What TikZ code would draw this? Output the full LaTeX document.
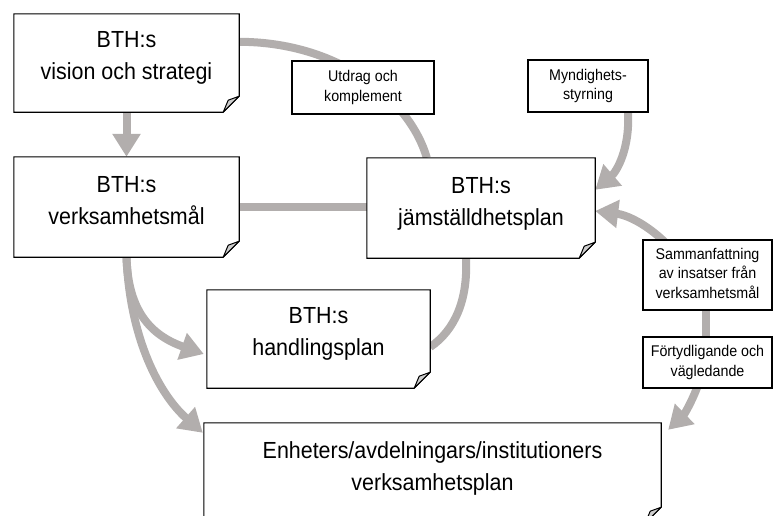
\documentclass[tikz,border=0pt]{standalone}
\usepackage{fontspec}
\setmainfont{Liberation Sans}
\newfontfamily\condfont[FakeStretch=0.92]{Liberation Sans}
\usetikzlibrary{arrows.meta,calc}
\definecolor{conngray}{RGB}{178,174,173}
\definecolor{foldgray}{RGB}{205,205,205}
\pgfdeclarelayer{bg}
\pgfdeclarelayer{mid}
\pgfsetlayers{bg,mid,main}
\newcommand\boxtext[2]{\raisebox{#1}[\height][\depth]{\begin{tabular}{@{}c@{}}#2\end{tabular}}}
\newcommand\dogbox[1]{%
  \draw[line width=1.1pt, fill=white, line join=miter]
    (#1.north west) -- (#1.north east) -- ($(#1.south east)+(0,-16)$)
    -- ($(#1.south east)+(-16,0)$) -- (#1.south west) -- cycle;
  \draw[line width=1pt, fill=foldgray, line join=round]
    ($(#1.south east)+(0,-16)$) -- ($(#1.south east)+(-11,-12)$)
    -- ($(#1.south east)+(-16,0)$) -- cycle;}
\tikzset{
  bigbox/.style={draw=none, inner sep=0pt, font=\condfont\fontsize{23.3}{32}\selectfont},
  smallbox/.style={draw=black, fill=white, line width=1.1pt, inner sep=0pt,
    font=\condfont\fontsize{15.5}{19.5}\selectfont},
  conn/.style={draw=conngray, line width=8pt},
  arr/.style={conn, -{Triangle[length=23pt,width=27pt]}},
}
\begin{document}
\begin{tikzpicture}[x=1pt,y=-1pt]
\path[use as bounding box] (0,0) rectangle (774,515);

% main boxes (text)
\node[bigbox, minimum width=225pt, minimum height=98pt] (vis) at (126.5,63)
  {\boxtext{6pt}{BTH:s\\vision och strategi}};
\node[bigbox, minimum width=225pt, minimum height=100pt] (verk) at (126.5,207)
  {\boxtext{5pt}{BTH:s\\verksamhetsmål}};
\node[bigbox, minimum width=228pt, minimum height=100pt] (jam) at (481,208)
  {\boxtext{5pt}{BTH:s\\jämställdhetsplan}};
\node[bigbox, minimum width=223pt, minimum height=98pt] (hand) at (318.5,339)
  {\boxtext{6pt}{BTH:s\\handlingsplan}};
\node[bigbox, minimum width=457pt, minimum height=100pt] (enh) at (432.5,473)
  {\boxtext{5pt}{Enheters/avdelningars/institutioners\\verksamhetsplan}};

% label boxes
\node[smallbox, minimum width=142pt, minimum height=53pt] (utd) at (363,87.5)
  {\boxtext{0pt}{Utdrag och\\komplement}};
\node[smallbox, minimum width=120pt, minimum height=52pt] (myn) at (588,86)
  {\boxtext{0pt}{Myndighets-\\styrning}};
\node[smallbox, minimum width=129pt, minimum height=70pt] (samm) at (707.5,275)
  {\boxtext{0pt}{Sammanfattning\\av insatser från\\verksamhetsmål}};
\node[smallbox, minimum width=129pt, minimum height=51pt] (fort) at (707.5,362.5)
  {\boxtext{0pt}{Förtydligande och\\vägledande}};

% outlines with folded corner
\begin{pgfonlayer}{mid}
\dogbox{vis}
\dogbox{verk}
\dogbox{jam}
\dogbox{hand}
\dogbox{enh}
\end{pgfonlayer}

% connectors
\begin{pgfonlayer}{bg}
\draw[arr] (vis.south) -- (verk.north);
\draw[conn] (verk.east) -- (verk.east -| jam.west);
\draw[conn] ($(vis.north east)+(0,28)$) .. controls (340,42) and (410,100) .. ($(jam.north west)+(60,0)$);
\draw[arr] ($(myn.south)+(40,0)$) .. controls (630,150) and (616,172) .. ($(jam.north east)+(0,32)$);
\draw[arr] ($(samm.center)+(-17.5,-1)$) .. controls (670,239) and (635,216) .. ($(jam.east)+(0,3)$);
\draw[conn] ($(samm.south)+(-1.5,0)$) -- ($(fort.north)+(-1.5,0)$);
\draw[arr] ($(fort.center)+(-5,8.6)$) .. controls (696.6,393.5) and (684.7,413.9) .. ($(enh.north east)+(7,7)$);
\draw[conn] ($(jam.south)+(-15,0)$) .. controls (468,300) and (455,330) .. ($(hand.east)+(0,8)$);
\draw[arr] (verk.south) .. controls (128,310) and (150,335) .. ($(hand.west)+(-3,15)$);
\draw[arr] (verk.south) .. controls (130,340) and (160,395) .. ($(enh.north west)+(-1,10)$);
\end{pgfonlayer}
\end{tikzpicture}
\end{document}
